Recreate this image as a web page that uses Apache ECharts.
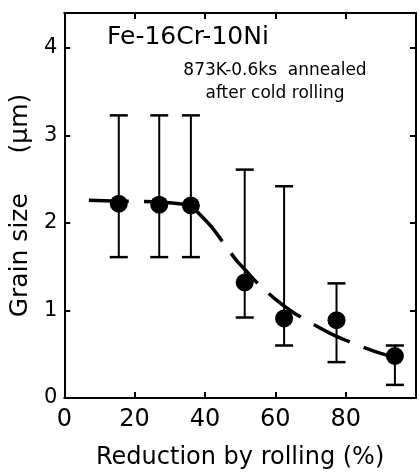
<!DOCTYPE html>
<html>
<head>
<meta charset="utf-8">
<script src="https://cdn.jsdelivr.net/npm/echarts@6/dist/echarts.min.js"></script>
<style>
  html, body { margin: 0; padding: 0; background: #fff; }
  #chart { width: 419px; height: 475px; }
</style>
</head>
<body>
<div id="chart"></div>
<script>
  // measured points: reduction (%) and mean grain size (um)
  var reduction = [15.5, 27, 36, 51.3, 62.5, 77.4, 94];
  var grainSize = [2.22, 2.21, 2.2, 1.32, 0.91, 0.89, 0.48];
  // scatter band of each point
  var errLow = [1.61, 1.61, 1.61, 0.92, 0.6, 0.41, 0.15];
  var errHigh = [3.23, 3.23, 3.23, 2.61, 2.42, 1.31, 0.6];

  // hand drawn trend curve
  var curveX = [7, 15.5, 27, 36, 38, 42, 46, 49, 52, 55, 60, 65, 70, 75, 80, 85, 90, 95, 100];
  var curveY = [2.26, 2.25, 2.24, 2.2, 2.12, 1.95, 1.73, 1.57, 1.44, 1.31, 1.13, 0.98, 0.86, 0.75, 0.66, 0.58, 0.51, 0.46, 0.42];

  var xTicks = [0, 20, 40, 60, 80];
  var yTicks = [0, 1, 2, 3, 4];

  var font = 'DejaVu Sans';

  var chart = echarts.init(document.getElementById('chart'));

  var points = [];
  var bars = [];
  var curve = [];
  for (var i = 0; i < reduction.length; i++) {
    points.push([reduction[i], grainSize[i]]);
    bars.push([reduction[i], errLow[i], errHigh[i]]);
  }
  for (var j = 0; j < curveX.length; j++) {
    curve.push([curveX[j], curveY[j]]);
  }

  function axisBase (pos) {
    return {
      position: pos,
      axisLine: { show: true, onZero: false, lineStyle: { color: '#000', width: 2 } },
      axisTick: { show: true, inside: true, length: 6, lineStyle: { color: '#000', width: 2 } },
      splitLine: { show: false }
    };
  }

  var xBottom = axisBase('bottom');
  xBottom.type = 'value';
  xBottom.min = 0;
  xBottom.max = 100;
  xBottom.interval = 20;
  xBottom.name = 'Reduction by rolling (%)';
  xBottom.nameLocation = 'middle';
  xBottom.nameGap = 48;
  xBottom.nameTextStyle = { color: '#000', fontFamily: font, fontSize: 24 };
  xBottom.axisLabel = {
    color: '#000', fontFamily: font, fontSize: 24, margin: 10,
    formatter: function (v) { return xTicks.indexOf(v) >= 0 ? String(v) : ''; }
  };

  var xTop = axisBase('top');
  xTop.type = 'value';
  xTop.min = 0;
  xTop.max = 100;
  xTop.interval = 20;
  xTop.axisLabel = { show: false };

  var yLeft = axisBase('left');
  yLeft.type = 'value';
  yLeft.min = 0;
  yLeft.max = 4.4;
  yLeft.interval = 1;
  yLeft.name = 'Grain size     (\u03bcm)';
  yLeft.nameLocation = 'middle';
  yLeft.nameGap = 30;
  yLeft.nameRotate = 90;
  yLeft.nameTextStyle = { color: '#000', fontFamily: font, fontSize: 25 };
  yLeft.axisLabel = {
    color: '#000', fontFamily: font, fontSize: 21, margin: 7,
    formatter: function (v) { return yTicks.indexOf(v) >= 0 ? String(v) : ''; }
  };

  var yRight = axisBase('right');
  yRight.type = 'value';
  yRight.min = 0;
  yRight.max = 4.4;
  yRight.interval = 1;
  yRight.axisLabel = { show: false };

  chart.setOption({
    animation: false,
    backgroundColor: '#fff',
    grid: { left: 62, right: 2, top: 13, bottom: 75, containLabel: false },
    xAxis: [xBottom, xTop],
    yAxis: [yLeft, yRight],
    graphic: [
      {
        type: 'text', left: 107, top: 25,
        style: { text: 'Fe-16Cr-10Ni', font: '25px "DejaVu Sans"', fill: '#000' }
      },
      {
        type: 'text', x: 275, y: 71,
        style: { text: '873K-0.6ks  annealed', font: '17px "DejaVu Sans"', fill: '#000', align: 'center', verticalAlign: 'middle' }
      },
      {
        type: 'text', x: 275, y: 94,
        style: { text: 'after cold rolling', font: '17px "DejaVu Sans"', fill: '#000', align: 'center', verticalAlign: 'middle' }
      }
    ],
    series: [
      {
        type: 'line',
        data: curve,
        smooth: 0.2,
        symbol: 'none',
        lineStyle: { color: '#000', width: 3.5, type: [40, 15] },
        z: 2
      },
      {
        type: 'custom',
        data: bars,
        renderItem: function (params, api) {
          var top = api.coord([api.value(0), api.value(2)]);
          var bot = api.coord([api.value(0), api.value(1)]);
          var half = 9;
          var st = { stroke: '#000', lineWidth: 2 };
          return {
            type: 'group',
            children: [
              { type: 'line', shape: { x1: top[0], y1: top[1], x2: bot[0], y2: bot[1] }, style: st },
              { type: 'line', shape: { x1: top[0] - half, y1: top[1], x2: top[0] + half, y2: top[1] }, style: { stroke: '#000', lineWidth: 2.5 } },
              { type: 'line', shape: { x1: bot[0] - half, y1: bot[1], x2: bot[0] + half, y2: bot[1] }, style: { stroke: '#000', lineWidth: 2.5 } }
            ]
          };
        },
        z: 3
      },
      {
        type: 'scatter',
        data: points,
        symbol: 'circle',
        symbolSize: 18,
        itemStyle: { color: '#000', opacity: 1 },
        z: 4
      }
    ]
  });
</script>
</body>
</html>
